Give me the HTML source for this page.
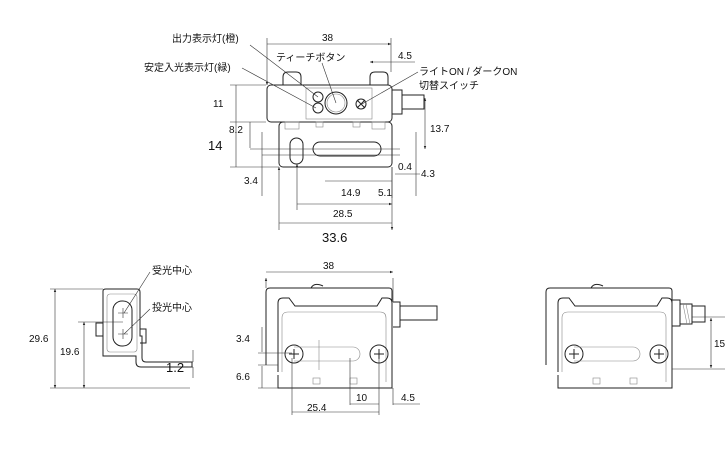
<!DOCTYPE html>
<html><head><meta charset="utf-8"><style>
html,body{margin:0;padding:0;background:#fff}
svg{display:block}
text{font-family:"Liberation Sans","Noto Sans CJK JP",sans-serif;fill:#111;font-size:10px}
.l{stroke:#222;fill:none;stroke-width:1}
.t{stroke:#888;fill:none;stroke-width:.6}
.d{stroke:#333;fill:none;stroke-width:.6}
</style></head><body>
<svg width="725" height="450" viewBox="0 0 725 450" xmlns="http://www.w3.org/2000/svg">
<defs><marker id="a" viewBox="0 0 10 10" refX="10" refY="5" markerWidth="7" markerHeight="5" orient="auto-start-reverse"><path d="M0,1 L10,5 L0,9z" fill="#222"/></marker></defs>

<!-- TOP VIEW -->
<path class="l" d="M283,85 v-8 q0,-5 5,-5 h8 q5,0 5,5 v8 M370,85 v-8 q0,-5 5,-5 h8 q5,0 5,5 v8"/>
<rect class="l" x="267" y="85" width="125" height="37" rx="4"/>
<rect class="t" x="306" y="88" width="66" height="31"/>
<rect class="l" x="279" y="122" width="113" height="45" rx="4"/>
<rect class="l" x="290" y="138" width="13" height="26" rx="6.5"/>
<rect class="l" x="313" y="142" width="68" height="14" rx="7"/>
<rect class="t" x="285" y="122" width="14" height="7"/><rect class="t" x="316" y="122" width="7" height="5"/><rect class="t" x="353" y="122" width="7" height="5"/><rect class="t" x="372" y="122" width="13" height="7"/>
<circle class="l" cx="336" cy="103" r="11"/><circle class="t" cx="336" cy="103" r="9"/>
<rect class="l" x="313" y="92" width="10" height="10" rx="5"/><rect class="l" x="313" y="103" width="10" height="10" rx="5"/>
<circle class="l" cx="361" cy="104" r="5"/><path class="l" d="M357,100 l8,8 M365,100 l-8,8"/>
<path class="l" d="M392,90 h10 v24 h-10 M402,95 h22 v14 h-22"/>
<!-- top dims -->
<path class="d" d="M267,85 V38 M391,72 V38 M267,44 H391" marker-start="url(#a)" marker-end="url(#a)"/>
<text x="322" y="41">38</text>
<path class="d" d="M370,62 H415 M388,62 H370" marker-end="url(#a)"/><text x="398" y="59">4.5</text>
<path class="d" d="M230,85 H266 M230,122 H266 M230,167 H279 M236,85 V167"/>
<text x="213" y="107">11</text>
<text style="font-size:13px" x="208" y="150">14</text>
<path class="d" d="M250,122 V148 M250,149 H400 M262,132 V196 M262,155 H400" /><text x="229" y="133">8.2</text>
<text x="244" y="184">3.4</text>
<path class="d" d="M425,98 V149" marker-start="url(#a)" marker-end="url(#a)"/><text x="430" y="132">13.7</text>
<path class="d" d="M416,132 V196 M392,167 V198 M395,174 H420"/><text x="398" y="170">0.4</text><text x="421" y="177">4.3</text>
<path class="d" d="M325,181 H392" /><text x="341" y="196">14.9</text><text x="378" y="196">5.1</text>
<path class="d" d="M297,164 V210 M297,204 H392" marker-start="url(#a)" marker-end="url(#a)"/><text x="333" y="217">28.5</text>
<path class="d" d="M279,167 V230 M279,223 H392 M392,167 V230" marker-start="url(#a)" marker-end="url(#a)"/>
<text style="font-size:13px" x="322" y="242">33.6</text>
<!-- labels -->
<text x="172" y="42">出力表示灯(橙)</text>
<text x="144" y="71">安定入光表示灯(緑)</text>
<text x="276" y="61">ティーチボタン</text>
<text x="419" y="75">ライトON / ダークON</text>
<text x="419" y="89">切替スイッチ</text>
<path class="d" d="M250,45 L318,97 M242,68 L316,108 M322,63 L336,103 M418,72 L362,104"/>

<!-- LEFT SIDE VIEW -->
<path class="l" d="M103,356 V291 q0,-2 3,-2 h31 q3,0 3,3 V336 h2 v22 q0,4 4,4 h46 v5 h-51 q-5,0 -5,-5 V356 z"/>
<path class="l" d="M103,336 H96 V323 H103 M140,343 h6 v-14 h-6"/>
<rect class="t" x="107" y="294" width="30" height="58" rx="3"/>
<rect class="l" x="113" y="301" width="19" height="45" rx="9"/>
<path class="d" d="M118,313 h10 M123,308 v10 M118,334 h10 M123,329 v10"/>
<text x="152" y="274">受光中心</text><text x="152" y="311">投光中心</text>
<path class="d" d="M150,272 L124,313 M150,309 L124,334"/>
<path class="d" d="M50,289 H103 M78,322 H123 M50,388 H190"/>
<path class="d" d="M55,289 V388" marker-start="url(#a)" marker-end="url(#a)"/><text x="29" y="342">29.6</text>
<path class="d" d="M84,322 V388" marker-start="url(#a)" marker-end="url(#a)"/><text x="60" y="355">19.6</text>
<path class="d" d="M193,362 H188 M193,367 H188 M193,350 V362 M193,367 V378"/>
<text style="font-size:13px" x="166" y="372">1.2</text>

<!-- MIDDLE VIEW -->
<path class="l" d="M266,365 V292 q0,-4 4,-4 h119 q3,0 3,3 V375"/>
<path class="l" d="M278,372 V303 q0,-5 5,-5 h6 l6,8 h82 l5,-8 h5 q5,0 5,5 v85 H278 V375"/>
<path class="t" d="M282,372 V318 q0,-6 6,-6 h92 q6,0 6,6 V382"/>
<path class="l" d="M311,288 q3,-6 12,-2 M357,288 h30"/>
<path class="l" d="M393,302 h7 v25 h-7 M400,306 h37 v14 h-37"/>
<circle class="l" cx="294" cy="354" r="9"/><path class="l" d="M289,354 h10 M294,349 v10"/>
<circle class="l" cx="379" cy="354" r="9"/><path class="l" d="M374,354 h10 M379,349 v10"/>
<path class="t" d="M294,347 h59 a7,7 0 0 1 0,14 h-59"/>
<path class="t" d="M319,340 v30"/>
<rect class="t" x="313" y="378" width="7" height="6"/><rect class="t" x="350" y="378" width="7" height="6"/>
<path class="d" d="M266,278 V288 M393,278 V302 M266,272 H393" marker-start="url(#a)" marker-end="url(#a)"/>
<text x="323" y="269">38</text>
<path class="d" d="M258,353 H292 M258,365 H278 M258,388 H278 M262,327 V352 M262,366 V388"/>
<text x="236" y="342">3.4</text><text x="236" y="380">6.6</text>
<path class="d" d="M292,358 V415 M350,358 V405 M379,358 V415 M393,388 V405 M292,412 H379 M350,404 H379 M393,404 H420"/>
<text x="307" y="411">25.4</text><text x="356" y="401">10</text><text x="401" y="401">4.5</text>

<!-- RIGHT VIEW -->
<path class="l" d="M546,365 V292 q0,-4 4,-4 h119 q3,0 3,3 V375"/>
<path class="l" d="M558,372 V303 q0,-5 5,-5 h6 l6,8 h82 l5,-8 h5 q5,0 5,5 v85 H558 V375"/>
<path class="t" d="M562,372 V318 q0,-6 6,-6 h92 q6,0 6,6 V382"/>
<path class="l" d="M591,288 q3,-6 12,-2 M637,288 h30"/>
<path class="l" d="M672,300 h8 v26 h-8 M680,304 h12 v20 h-12 M692,306 h13 v16 h-13"/>
<path class="t" d="M683,304 l4,20 M686,304 l4,20"/>
<circle class="l" cx="574" cy="354" r="9"/><path class="l" d="M569,354 h10 M574,349 v10"/>
<circle class="l" cx="659" cy="354" r="9"/><path class="l" d="M654,354 h10 M659,349 v10"/>
<path class="t" d="M574,347 h59 a7,7 0 0 1 0,14 h-59"/>
<rect class="t" x="593" y="378" width="7" height="6"/><rect class="t" x="630" y="378" width="7" height="6"/>
<path class="d" d="M692,317 H725 M672,369 H725"/>
<path class="d" d="M711,318 V368" marker-start="url(#a)" marker-end="url(#a)"/><text x="714" y="347">15</text>
</svg>
</body></html>
